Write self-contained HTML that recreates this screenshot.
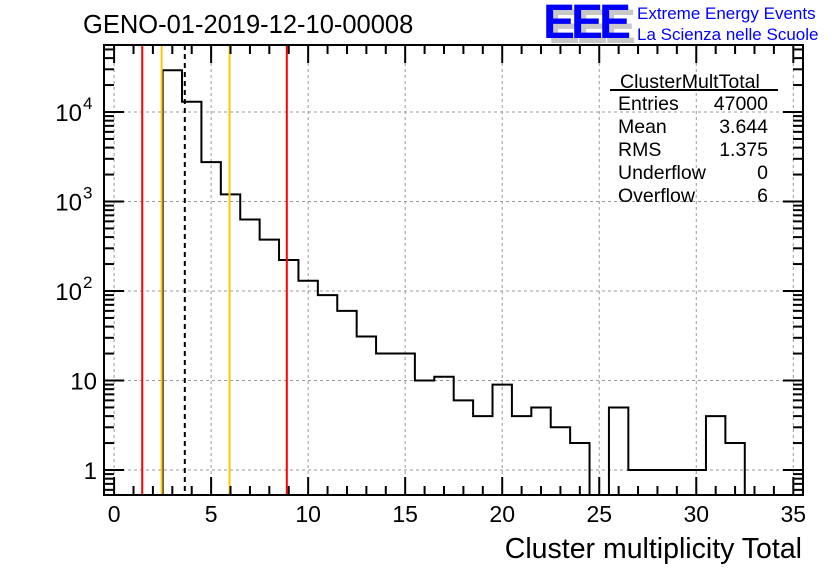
<!DOCTYPE html>
<html><head><meta charset="utf-8"><style>
body{margin:0;background:#fff;}
svg{display:block;font-family:"Liberation Sans",sans-serif;}
</style></head><body>
<svg id="c" width="836" height="572">
<text x="83" y="33" font-size="25.5">GENO-01-2019-12-10-00008</text>
<g>
<text x="548" y="43" font-size="48" font-weight="bold" fill="#c8c8c8" letter-spacing="-4">EEE</text>
<text x="543" y="38" font-size="48" font-weight="bold" fill="#0000ff" letter-spacing="-4">EEE</text>
<text x="637" y="19" font-size="17" fill="#0000ff">Extreme Energy Events</text>
<text x="637" y="40" font-size="17" fill="#0000ff">La Scienza nelle Scuole</text>
</g>
<g id="grid"></g>
<g id="marks"></g>
<g id="axes"></g>
<g font-size="19.5">
<text x="620" y="88">ClusterMultTotal</text>
<line x1="610" y1="90" x2="778" y2="90" stroke="#000" stroke-width="2"/>
<text x="618" y="110">Entries</text><text x="768" y="110" text-anchor="end">47000</text>
<text x="618" y="133">Mean</text><text x="768" y="133" text-anchor="end">3.644</text>
<text x="618" y="156">RMS</text><text x="768" y="156" text-anchor="end">1.375</text>
<text x="618" y="179">Underflow</text><text x="768" y="179" text-anchor="end">0</text>
<text x="618" y="202">Overflow</text><text x="768" y="202" text-anchor="end">6</text>
</g>
<text x="802" y="558" font-size="28.5" text-anchor="end">Cluster multiplicity Total</text>
</svg>
<script>
const binCenters=[3,4,5,6,7,8,9,10,11,12,13,14,15,16,17,18,19,20,21,22,23,24,25,26,27,28,29,30,31,32];
const counts=[29300,13000,2750,1200,630,375,222,130,90,60,31,20,20,10,11,6,4,9,4,5,3,2,0,5,1,1,1,1,4,2];
const xTicks=[0,5,10,15,20,25,30,35];
const yTicks=[1,10,100,1000,10000];
const yTickBase=["1","10","10","10","10"];
const yTickExp=["","","2","3","4"];
const redLines=[1.45,8.9];
const orangeLines=[2.45,5.95];
const meanLine=[3.644];
const L=104,R=803,T=45,B=495;
const xmin=-0.52,xmax=35.5;
const X=v=>L+(v-xmin)/(xmax-xmin)*(R-L);
const Y=v=>v<=0?B:470-Math.log10(v)*89.5;
const NS="http://www.w3.org/2000/svg";
function mk(tag,attrs,parent){const e=document.createElementNS(NS,tag);for(const k in attrs)e.setAttribute(k,attrs[k]);(typeof parent==='string'?document.getElementById(parent):parent).appendChild(e);return e;}
xTicks.forEach(t=>{const e=mk('line',{x1:X(t),x2:X(t),y1:T,y2:B,stroke:'#999','stroke-dasharray':'3,3'},'grid');

});
yTicks.forEach(t=>{const e=mk('line',{x1:L,x2:R,y1:Y(t),y2:Y(t),stroke:'#999','stroke-dasharray':'3,3'},'grid');

});
let d='M'+X(binCenters[0]-0.5)+','+B;
binCenters.forEach((c,i)=>{const y=Math.min(Y(counts[i]),B);d+=' L'+X(c-0.5)+','+y+' L'+X(c+0.5)+','+y;});
d+=' L'+X(binCenters[binCenters.length-1]+0.5)+','+B;
const h=mk('path',{d:d,fill:'none',stroke:'#000','stroke-width':2},'marks');


redLines.forEach(v=>{const e=mk('line',{x1:X(v),x2:X(v),y1:T,y2:B,stroke:'#f00','stroke-width':2},'marks');

});
orangeLines.forEach(v=>{const e=mk('line',{x1:X(v),x2:X(v),y1:T,y2:B,stroke:'#ffc800','stroke-width':2},'marks');

});
meanLine.forEach(v=>{const e=mk('line',{x1:X(v),x2:X(v),y1:T,y2:B,stroke:'#000','stroke-width':2,'stroke-dasharray':'5,4'},'marks');

});
const f=mk('rect',{x:L,y:T,width:R-L,height:B-T,fill:'none',stroke:'#000','stroke-width':2},'axes');


for(let v=0;v<=35;v++){const big=v%5===0;const len=big?18:9;
mk('line',{x1:X(v),x2:X(v),y1:B,y2:B-len,stroke:'#000','stroke-width':2},'axes');
mk('line',{x1:X(v),x2:X(v),y1:T,y2:T+len,stroke:'#000','stroke-width':2},'axes');}
xTicks.forEach(t=>{const e=mk('text',{x:X(t),y:522,'font-size':23,'text-anchor':'middle'},'axes');e.textContent=t;

});
for(let dec=-1;dec<=4;dec++){for(let m=1;m<10;m++){const v=m*Math.pow(10,dec);const y=Y(v);if(y<T||y>B)continue;const len=m===1?20:10;
mk('line',{x1:L,x2:L+len,y1:y,y2:y,stroke:'#000','stroke-width':2},'axes');
mk('line',{x1:R,x2:R-len,y1:y,y2:y,stroke:'#000','stroke-width':2},'axes');}}
yTicks.forEach((t,i)=>{const hasExp=yTickExp[i]!=='';
const e=mk('text',{x:hasExp?82:97,y:Y(t)+9,'font-size':24,'text-anchor':'end'},'axes');e.textContent=yTickBase[i];


if(hasExp){const s=mk('text',{x:83,y:Y(t)-3,'font-size':17,'text-anchor':'start'},'axes');s.textContent=yTickExp[i];

}});
</script>
</body></html>
